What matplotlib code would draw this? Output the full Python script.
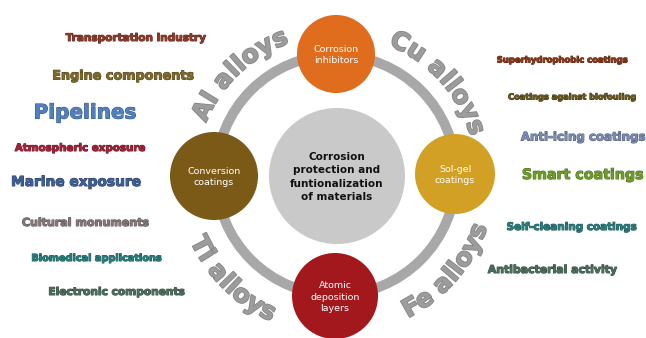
import numpy as np
import matplotlib
matplotlib.use('Agg')
import matplotlib.pyplot as plt
from matplotlib.patches import Circle
from matplotlib.textpath import TextPath
from matplotlib.font_manager import FontProperties
import matplotlib.patheffects as pe

#---DATA

hub_label = "Corrosion\nprotection and\nfuntionalization\nof materials"
node_labels = ["Corrosion\ninhibitors", "Sol-gel\ncoatings",
               "Atomic\ndeposition\nlayers", "Conversion\ncoatings"]
alloy_labels = ["Al alloys", "Cu alloys", "Fe alloys", "Ti alloys"]
left_items = ["Transportation industry", "Engine components", "Pipelines",
              "Atmospheric exposure", "Marine exposure", "Cultural monuments",
              "Biomedical applications", "Electronic components"]
right_items = ["Superhydrophobic coatings", "Coatings against biofouling",
               "Anti-icing coatings", "Smart coatings",
               "Self-cleaning coatings", "Antibacterial activity"]

#---LAYOUT (pixels, y down)

W, H = 646, 338
cx, cy, ring_r = 336, 175, 120

node_xy = [(336, 54, 39), (455, 174, 40), (335, 296, 43), (214, 176, 44)]
node_col = ['#e06c1e', '#d2a024', '#a3181c', '#7b5a17']

# centre angle (deg), top (True) or bottom reading
alloy_pos = [(134, True), (42, True), (-41, False), (225, False)]

NARROW = 'Liberation Sans Narrow'
WIDE = 'DejaVu Sans'
left_pos = [(136, 38, 140, '#8e3b2b', NARROW),
            (123, 76, 140, '#7f6a2c', NARROW),
            (85, 113, 100, '#5080bf', WIDE),
            (80, 148, 130, '#a2243c', NARROW),
            (76, 182, 128, '#3e5f95', WIDE),
            (85, 223, 126, '#857878', NARROW),
            (97, 258, 129, '#2b7e80', NARROW),
            (117, 292, 135, '#4d6e5e', NARROW)]
right_pos = [(563, 60, 130, '#8b3a1c', NARROW),
             (573, 97, 127, '#6b5a22', NARROW),
             (583, 137, 124, '#7b8bb0', NARROW),
             (583, 175, 120, '#6f9b2a', WIDE),
             (572, 227, 129, '#2b7e80', NARROW),
             (552, 270, 129, '#4d6e5e', NARROW)]


def darker(c, f=0.65):
    r, g, b = matplotlib.colors.to_rgb(c)
    return (r * f, g * f, b * f)


def fit_size(text, family, width):
    fp = FontProperties(family=family, weight='bold')
    w100 = TextPath((0, 0), text, size=100, prop=fp).get_extents().width
    return 100 * width / w100 * 72 / 100


def arc_text(ax, s, ang0, top, fs):
    fp = FontProperties(family='DejaVu Sans', weight='bold')
    em = fs * 100 / 72
    widths = []
    for i in range(len(s)):
        widths.append(TextPath((0, 0), s[:i + 1], size=em, prop=fp).get_extents().width)
    sp = 1.0
    total = widths[-1] * sp
    r = 140 if top else 160
    for i, ch in enumerate(s):
        if ch == ' ':
            continue
        wch = TextPath((0, 0), ch, size=em, prop=fp).get_extents().width
        c = (widths[i] - wch / 2) * sp
        d = np.degrees((total / 2 - c) / r)
        a = ang0 + d if top else ang0 - d
        x = cx + r * np.cos(np.radians(a))
        y = cy - r * np.sin(np.radians(a))
        rot = a - 90 if top else a + 90
        ax.text(x, y, ch, fontsize=fs, fontweight='bold', color='#9c9c9c',
                rotation=rot, rotation_mode='anchor', ha='center', va='baseline',
                path_effects=[pe.withStroke(linewidth=1.2, foreground='#858585')])


fig = plt.figure(figsize=(6.46, 3.38), dpi=100)
ax = fig.add_axes([0, 0, 1, 1])
ax.set_xlim(0, W)
ax.set_ylim(H, 0)
ax.axis('off')

ax.add_patch(Circle((cx, cy), ring_r, fill=False, ec='#a8a8a8', lw=7.2, zorder=1))
ax.add_patch(Circle((337, 176), 68, fc='#c9c9c9', ec='none', zorder=2))
ax.text(337, 177, hub_label, ha='center', va='center', fontsize=7.5,
        fontweight='bold', color='#111111', linespacing=1.45, zorder=3)

for (x, y, r), col, lab in zip(node_xy, node_col, node_labels):
    ax.add_patch(Circle((x, y), r, fc=col, ec='none', zorder=2))
    ax.text(x, y + 1, lab, ha='center', va='center', fontsize=6.8,
            color='white', linespacing=1.35, zorder=3)

for lab, (a, top) in zip(alloy_labels, alloy_pos):
    arc_text(ax, lab, a, top, 18)

for lab, (x, y, w, col, fam) in zip(left_items + right_items, left_pos + right_pos):
    fs = fit_size(lab, fam, w)
    ax.text(x, y, lab, ha='center', va='center', fontsize=fs, family=fam,
            fontweight='bold', color=col,
            path_effects=[pe.withStroke(linewidth=0.7, foreground=darker(col))])

fig.savefig('out.png', dpi=100)
